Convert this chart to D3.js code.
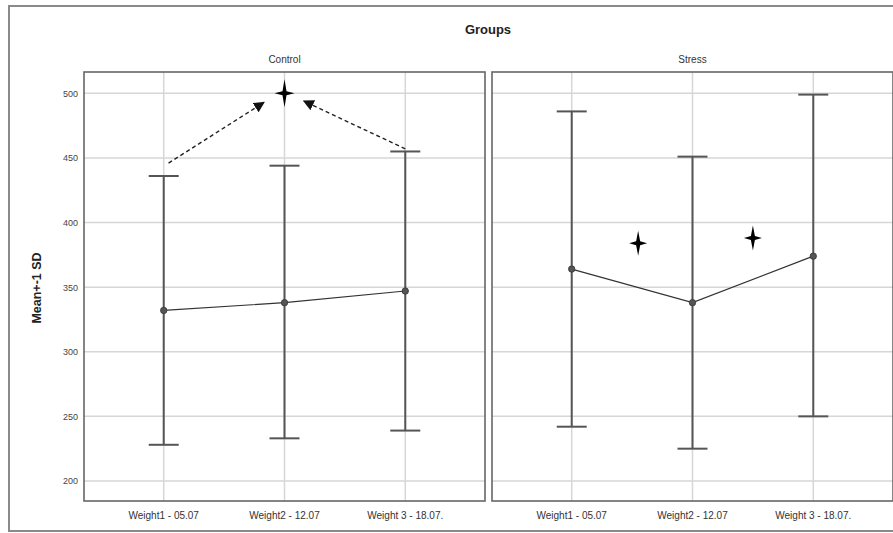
<!DOCTYPE html>
<html>
<head>
<meta charset="utf-8">
<script src="https://cdn.jsdelivr.net/npm/d3@7"></script>
<style>
  html, body { margin: 0; padding: 0; background: #fff; }
  svg { display: block; font-family: "Liberation Sans", Arial, sans-serif; }
</style>
</head>
<body>
<svg id="chart" width="893" height="533"></svg>
<script>
// Time points on the x axis
const categories = ["Weight1 - 05.07", "Weight2 - 12.07", "Weight 3 - 18.07."];
// Panel (group) names
const groups = ["Control", "Stress"];
// Mean and ±1 SD bounds per group
const controlMean = [332, 338, 347];
const controlLow  = [228, 233, 239];
const controlHigh = [436, 444, 455];
const stressMean  = [364, 338, 374];
const stressLow   = [242, 225, 250];
const stressHigh  = [486, 451, 499];
// Y tick values
const yTicks = [200, 250, 300, 350, 400, 450, 500];
// Significance stars: [group, category position, value]
const stars = [["Control", 1, 500], ["Stress", 0.55, 384], ["Stress", 1.5, 388]];
// Dashed comparison arrows in Control: [from position, from value, to position, to value]
const arrows = [[0.04, 446, 0.83, 493], [2.0, 457, 1.16, 494]];

const series = {
  Control: { mean: controlMean, low: controlLow, high: controlHigh },
  Stress:  { mean: stressMean,  low: stressLow,  high: stressHigh }
};

const svg = d3.select("#chart");

// Outer frame
svg.append("rect")
  .attr("x", 9).attr("y", 6).attr("width", 900).attr("height", 525)
  .attr("fill", "none").attr("stroke", "#8a8a8a").attr("stroke-width", 2);

svg.append("text")
  .attr("x", 488).attr("y", 34)
  .attr("text-anchor", "middle")
  .attr("font-size", 13).attr("font-weight", "bold").attr("fill", "#222")
  .text("Groups");

const plotTop = 72, plotBottom = 501;
const y = d3.scaleLinear().domain([184.5, 516.5]).range([plotBottom, plotTop]);

const panels = [
  { name: groups[0], x0: 84, x1: 485 },
  { name: groups[1], x0: 492, x1: 893 }
];

svg.append("defs").append("marker")
  .attr("id", "arrowhead")
  .attr("viewBox", "0 0 10 10")
  .attr("refX", 9).attr("refY", 5)
  .attr("markerWidth", 11).attr("markerHeight", 11)
  .attr("markerUnits", "userSpaceOnUse")
  .attr("orient", "auto")
  .append("path").attr("d", "M0,0 L10,5 L0,10 Z").attr("fill", "#111");

// Four-pointed star with a narrow waist
const starPath = (cx, cy, rx, ry, w) =>
  `M${cx},${cy - ry} L${cx + w},${cy - w} L${cx + rx},${cy} L${cx + w},${cy + w}` +
  ` L${cx},${cy + ry} L${cx - w},${cy + w} L${cx - rx},${cy} L${cx - w},${cy - w} Z`;

panels.forEach(p => {
  const g = svg.append("g");
  const x = d3.scalePoint().domain(categories).range([p.x0, p.x1]).padding(0.66);
  const step = x.step();
  const xpos = i => x(categories[0]) + i * step;
  const s = series[p.name];

  g.append("text")
    .attr("x", (p.x0 + p.x1) / 2).attr("y", 63)
    .attr("text-anchor", "middle")
    .attr("font-size", 10).attr("fill", "#333")
    .text(p.name);

  // gridlines
  g.selectAll(".hg").data(yTicks).join("line")
    .attr("x1", p.x0).attr("x2", p.x1)
    .attr("y1", d => y(d)).attr("y2", d => y(d))
    .attr("stroke", "#d6d6d6").attr("stroke-width", 1.5);
  g.selectAll(".vg").data(categories).join("line")
    .attr("x1", d => x(d)).attr("x2", d => x(d))
    .attr("y1", plotTop).attr("y2", plotBottom)
    .attr("stroke", "#d6d6d6").attr("stroke-width", 1.5);

  // error bars
  const capW = 15;
  categories.forEach((c, i) => {
    const cx = x(c);
    g.append("line").attr("x1", cx).attr("x2", cx)
      .attr("y1", y(s.low[i])).attr("y2", y(s.high[i]))
      .attr("stroke", "#555").attr("stroke-width", 2);
    [s.low[i], s.high[i]].forEach(v => {
      g.append("line").attr("x1", cx - capW).attr("x2", cx + capW)
        .attr("y1", y(v)).attr("y2", y(v))
        .attr("stroke", "#555").attr("stroke-width", 2);
    });
  });

  // mean line and points
  g.append("path")
    .datum(s.mean)
    .attr("d", d3.line().x((d, i) => x(categories[i])).y(d => y(d)))
    .attr("fill", "none").attr("stroke", "#333").attr("stroke-width", 1.2);
  g.selectAll(".pt").data(s.mean).join("circle")
    .attr("cx", (d, i) => x(categories[i])).attr("cy", d => y(d))
    .attr("r", 3.2).attr("fill", "#555").attr("stroke", "#333").attr("stroke-width", 0.8);

  // x labels
  g.selectAll(".xl").data(categories).join("text")
    .attr("x", d => x(d)).attr("y", 519)
    .attr("text-anchor", "middle")
    .attr("font-size", 10).attr("fill", "#333")
    .text(d => d);

  // annotations
  if (p.name === "Control") {
    arrows.forEach(a => {
      g.append("line")
        .attr("x1", xpos(a[0])).attr("y1", y(a[1]))
        .attr("x2", xpos(a[2])).attr("y2", y(a[3]))
        .attr("stroke", "#222").attr("stroke-width", 1.4)
        .attr("stroke-dasharray", "4,3")
        .attr("marker-end", "url(#arrowhead)");
    });
  }
  stars.filter(st => st[0] === p.name).forEach(st => {
    const big = p.name === "Control";
    g.append("path")
      .attr("d", starPath(xpos(st[1]), y(st[2]), big ? 10 : 9, big ? 14 : 12.5, 2))
      .attr("fill", "#000");
  });

  // panel border
  g.append("rect")
    .attr("x", p.x0).attr("y", plotTop)
    .attr("width", p.x1 - p.x0).attr("height", plotBottom - plotTop)
    .attr("fill", "none").attr("stroke", "#666").attr("stroke-width", 1.6);
});

// y axis tick labels
svg.selectAll(".yl").data(yTicks).join("text")
  .attr("x", 78).attr("y", d => y(d) + 3.5)
  .attr("text-anchor", "end")
  .attr("font-size", 9).attr("fill", "#444")
  .text(d => d);

svg.append("text")
  .attr("transform", `translate(41,${288}) rotate(-90)`)
  .attr("text-anchor", "middle")
  .attr("font-size", 12.5).attr("font-weight", "bold").attr("fill", "#222")
  .text("Mean+-1 SD");
</script>
</body>
</html>
